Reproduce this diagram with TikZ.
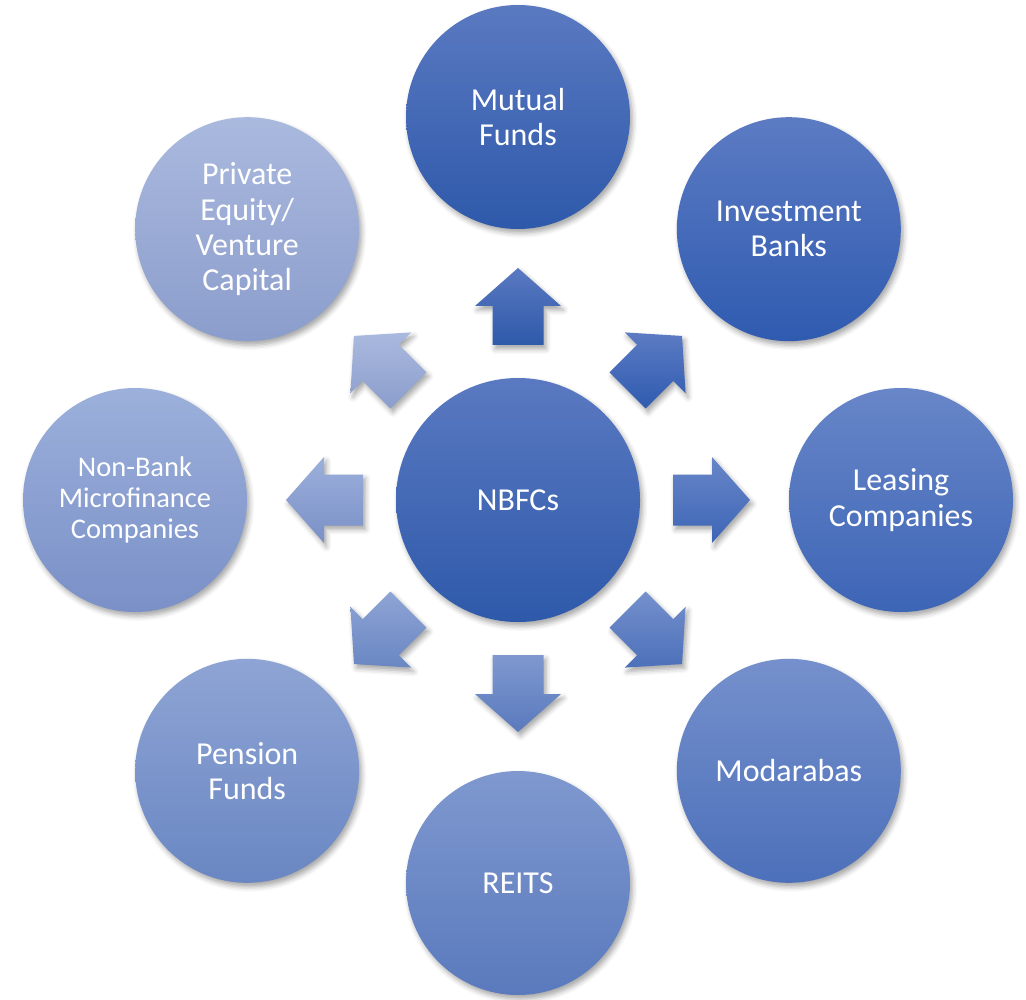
\documentclass[tikz,border=0pt]{standalone}
\usepackage{fontspec}
\setmainfont{Carlito}
\usetikzlibrary{positioning,calc,shadows.blur}

% shade pairs, top / bottom
\definecolor{hubTop}{HTML}{5A79C1}   \definecolor{hubBot}{HTML}{2E59AA}
\definecolor{mfTop}{HTML}{5A79C1}    \definecolor{mfBot}{HTML}{2E59AA}
\definecolor{ibTop}{HTML}{5C7BC3}    \definecolor{ibBot}{HTML}{2F5BB0}
\definecolor{lcTop}{HTML}{6886C8}    \definecolor{lcBot}{HTML}{3D65B6}
\definecolor{moTop}{HTML}{7590CC}    \definecolor{moBot}{HTML}{4C70BA}
\definecolor{reTop}{HTML}{7F98CF}    \definecolor{reBot}{HTML}{5A7ABD}
\definecolor{pfTop}{HTML}{8EA4D4}    \definecolor{pfBot}{HTML}{6A87C3}
\definecolor{nbTop}{HTML}{9CB0DB}    \definecolor{nbBot}{HTML}{7A90C7}
\definecolor{peTop}{HTML}{AAB9DE}    \definecolor{peBot}{HTML}{8B9DCC}

\tikzset{
  softshadow/.style={blur shadow={shadow xshift=0.025cm, shadow yshift=-0.04cm,
      shadow blur radius=0.05cm, shadow opacity=35}},
  bubble/.style={circle, minimum size=2.24cm, inner sep=0pt, text=white,
      align=center, font=\fontsize{9.1}{10}\selectfont, softshadow,
      top color=#1Top, bottom color=#1Bot},
  hubbubble/.style={bubble=#1, minimum size=2.44cm},
  blockarrow/.style={top color=#1Top, bottom color=#1Bot, softshadow}
}

\begin{document}
\begin{tikzpicture}
  \useasboundingbox (-5.18,-4.99) rectangle (5.08,5.00);

  \node[hubbubble=hub] (hub) at (0,0) {NBFCs};

  \node[bubble=mf] (mf) at (90:3.83)   {Mutual\\Funds};
  \node[bubble=ib] (ib) at (45:3.83)   {Investment\\Banks};
  \node[bubble=lc] (lc) at (0:3.83)    {Leasing\\Companies};
  \node[bubble=mo] (mo) at (-45:3.83)  {Modarabas};
  \node[bubble=re] (re) at (-90:3.83)  {REITS};
  \node[bubble=pf] (pf) at (-135:3.83) {Pension\\Funds};
  \node[bubble=nb, font=\fontsize{8.1}{8.8}\selectfont] (nb) at (180:3.83)
      {Non-Bank\\Microfinance\\Companies};
  \node[bubble=pe] (pe) at (135:3.83)  {Private\\Equity/\\Venture\\Capital};

  % block arrows from the hub outwards
  \foreach \t/\c in {mf/mf, ib/ib, lc/lc, mo/mo, re/re, pf/pf, nb/nb, pe/pe}{
    \path let \p1 = ($(\t)-(hub)$), \n1 = {atan2(\y1,\x1)} in
      [blockarrow=\c, shift={(hub)}, rotate=\n1]
      (1.55,-0.255) -- (1.94,-0.255) -- (1.94,-0.43) -- (2.32,0)
      -- (1.94,0.43) -- (1.94,0.255) -- (1.55,0.255) -- cycle;
  }
\end{tikzpicture}
\end{document}
